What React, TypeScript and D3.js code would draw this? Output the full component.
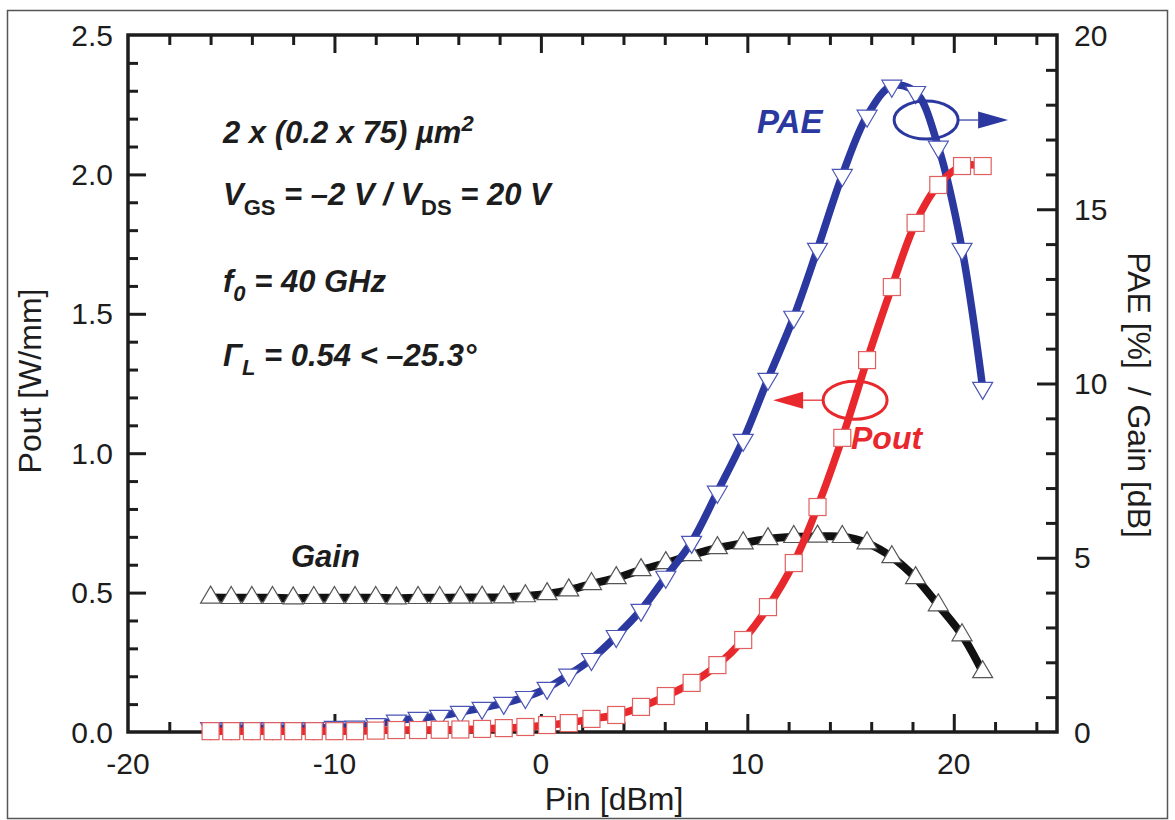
import React, { useEffect, useRef } from 'react';
import * as d3 from 'd3';

// measured input power [dBm]
const pin = [-16, -15, -14, -13, -12, -11, -10, -9, -8, -7, -5.95, -4.9, -3.9, -2.85, -1.8, -0.75, 0.3, 1.35, 2.45, 3.65, 4.85, 6.05, 7.3, 8.55, 9.8, 11.0, 12.25, 13.4, 14.6, 15.8, 17.0, 18.15, 19.25, 20.4, 21.4];

// Pout [W/mm] (left axis)
const pout = [0.003, 0.003, 0.003, 0.003, 0.003, 0.003, 0.003, 0.003, 0.005, 0.007, 0.007, 0.008, 0.009, 0.011, 0.014, 0.018, 0.025, 0.032, 0.047, 0.061, 0.090, 0.129, 0.176, 0.240, 0.330, 0.448, 0.606, 0.807, 1.055, 1.334, 1.596, 1.826, 1.962, 2.030, 2.030];

// PAE [%] (right axis)
const pae = [0.11, 0.11, 0.11, 0.11, 0.11, 0.11, 0.14, 0.15, 0.22, 0.32, 0.40, 0.46, 0.57, 0.69, 0.83, 1.00, 1.26, 1.64, 2.09, 2.75, 3.50, 4.45, 5.45, 6.89, 8.38, 10.13, 11.91, 13.86, 15.98, 17.68, 18.54, 18.36, 16.79, 13.86, 9.87];

// Gain [dB] (right axis)
const gain = [3.86, 3.85, 3.85, 3.85, 3.84, 3.85, 3.85, 3.85, 3.85, 3.84, 3.85, 3.85, 3.86, 3.86, 3.87, 3.90, 3.96, 4.07, 4.25, 4.42, 4.65, 4.85, 5.08, 5.28, 5.42, 5.54, 5.60, 5.61, 5.60, 5.42, 5.02, 4.42, 3.64, 2.78, 1.72];

const xTicks = [-20, -10, 0, 10, 20];
const yLeftTicks = [0, 0.5, 1.0, 1.5, 2.0, 2.5];
const yRightTicks = [0, 5, 10, 15, 20];

const BLUE = '#2a389f';
const RED = '#e8282c';
const INK = '#1d1d1d';
const FONT = '"Liberation Sans", Arial, sans-serif';

type Part = [string, string?];

const App = () => {
  const svgRef = useRef<SVGSVGElement>(null);

  useEffect(() => {
    if (!svgRef.current) return;
    const svg = d3.select(svgRef.current);
    svg.selectAll('*').remove();

    const left = 128, right = 1057, top = 35, bottom = 732;
    const x = d3.scaleLinear().domain([-20, 25]).range([left, right]);
    const yL = d3.scaleLinear().domain([0, 2.5]).range([bottom, top]);
    const yR = d3.scaleLinear().domain([0, 20]).range([bottom, top]);

    // outer frame of the figure
    svg.append('rect')
      .attr('x', 7.5).attr('y', 10.5).attr('width', 1160).attr('height', 808)
      .attr('fill', '#fff').attr('stroke', '#555').attr('stroke-width', 1.5);

    // ticks (inward)
    const tickG = svg.append('g').attr('stroke', INK);
    const addAxis = (axis: any, tx: number, ty: number) => {
      const g = tickG.append('g').attr('transform', `translate(${tx},${ty})`).call(axis);
      g.select('.domain').remove();
      g.selectAll('line').attr('stroke', INK).attr('stroke-width', 3);
      g.selectAll('text').remove();
    };
    const minorX = d3.range(-18, 25, 2).filter((v) => v % 10 !== 0);
    const majorX = [-10, 0, 10, 20];
    addAxis(d3.axisBottom(x).tickValues(minorX).tickSize(-10), 0, bottom);
    addAxis(d3.axisBottom(x).tickValues(majorX).tickSize(-18), 0, bottom);
    addAxis(d3.axisTop(x).tickValues(minorX).tickSize(-10), 0, top);
    addAxis(d3.axisTop(x).tickValues(majorX).tickSize(-18), 0, top);
    const minorYL = d3.range(1, 25).map((v) => v / 10).filter((v) => Math.round(v * 10) % 5 !== 0);
    addAxis(d3.axisLeft(yL).tickValues(minorYL).tickSize(-10), left, 0);
    addAxis(d3.axisLeft(yL).tickValues([0.5, 1.0, 1.5, 2.0]).tickSize(-18), left, 0);
    const minorYR = d3.range(1, 20).filter((v) => v % 5 !== 0);
    addAxis(d3.axisRight(yR).tickValues(minorYR).tickSize(-11), right, 0);
    addAxis(d3.axisRight(yR).tickValues([5, 10, 15]).tickSize(-20), right, 0);

    // plot frame
    svg.append('rect')
      .attr('x', left).attr('y', top).attr('width', right - left).attr('height', bottom - top)
      .attr('fill', 'none').attr('stroke', INK).attr('stroke-width', 3.5);

    // tick labels
    const lab = svg.append('g').attr('font-family', FONT).attr('font-size', 30).attr('fill', INK);
    xTicks.forEach((v) => {
      lab.append('text').attr('x', x(v)).attr('y', 774).attr('text-anchor', 'middle').text(v);
    });
    yLeftTicks.forEach((v) => {
      lab.append('text').attr('x', 113).attr('y', yL(v)).attr('dy', '0.35em')
        .attr('text-anchor', 'end').text(v.toFixed(1));
    });
    yRightTicks.forEach((v) => {
      lab.append('text').attr('x', 1074).attr('y', yR(v)).attr('dy', '0.35em').text(v);
    });

    // axis titles
    const titles = svg.append('g').attr('font-family', FONT).attr('font-size', 32).attr('fill', INK);
    titles.append('text').attr('x', 614).attr('y', 810).attr('text-anchor', 'middle').text('Pin [dBm]');
    titles.append('text').attr('transform', 'translate(41,381) rotate(-90)')
      .attr('text-anchor', 'middle').text('Pout [W/mm]');
    titles.append('text').attr('transform', 'translate(1128,395) rotate(90)')
      .attr('text-anchor', 'middle').attr('xml:space', 'preserve').text('PAE [%]  / Gain [dB]');

    // series
    const idx = d3.range(pin.length);
    const line = (yv: (i: number) => number) =>
      d3.line<number>().x((i) => x(pin[i])).y(yv).curve(d3.curveCatmullRom.alpha(0.5))(idx);

    const tri = (up: boolean) => {
      const h = 17, w = 20;
      return up
        ? `M0,${-h * 2 / 3}L${w / 2},${h / 3}L${-w / 2},${h / 3}Z`
        : `M0,${h * 2 / 3}L${w / 2},${-h / 3}L${-w / 2},${-h / 3}Z`;
    };

    // Gain
    svg.append('path').attr('d', line((i) => yR(gain[i])))
      .attr('fill', 'none').attr('stroke', '#111').attr('stroke-width', 8);
    svg.append('g').selectAll('path').data(idx).join('path')
      .attr('transform', (i) => `translate(${x(pin[i])},${yR(gain[i])})`)
      .attr('d', tri(true)).attr('fill', '#fff').attr('stroke', '#555').attr('stroke-width', 1.2);

    // PAE
    svg.append('path').attr('d', line((i) => yR(pae[i])))
      .attr('fill', 'none').attr('stroke', BLUE).attr('stroke-width', 7.5);
    svg.append('g').selectAll('path').data(idx).join('path')
      .attr('transform', (i) => `translate(${x(pin[i])},${yR(pae[i])})`)
      .attr('d', tri(false)).attr('fill', '#fff').attr('stroke', '#4a55b5').attr('stroke-width', 1.2);

    // Pout
    svg.append('path').attr('d', line((i) => yL(pout[i])))
      .attr('fill', 'none').attr('stroke', RED).attr('stroke-width', 7.5);
    svg.append('g').selectAll('rect').data(idx).join('rect')
      .attr('x', (i) => x(pin[i]) - 8.5).attr('y', (i) => yL(pout[i]) - 8.5)
      .attr('width', 17).attr('height', 17)
      .attr('fill', '#fff').attr('stroke', '#e06060').attr('stroke-width', 1.2);

    // ellipses with arrows pointing to the axis each curve belongs to
    const ellipse = (cx: number, cy: number, color: string, dir: number) => {
      const g = svg.append('g');
      g.append('ellipse').attr('cx', cx).attr('cy', cy).attr('rx', 32).attr('ry', 19)
        .attr('fill', 'none').attr('stroke', color).attr('stroke-width', 3);
      const x0 = cx + dir * 32, x1 = x0 + dir * 20, x2 = x1 + dir * 30;
      g.append('line').attr('x1', x0).attr('y1', cy).attr('x2', x1).attr('y2', cy)
        .attr('stroke', color).attr('stroke-width', 1.5).attr('opacity', 0.8);
      g.append('path').attr('d', `M${x1},${cy - 8.5}L${x2},${cy}L${x1},${cy + 8.5}Z`).attr('fill', color);
    };
    ellipse(x(18.66), yR(17.56), BLUE, 1);
    ellipse(x(15.22), yL(1.19), RED, -1);

    // annotations
    const rich = (tx: number, ty: number, parts: Part[], color = INK, size = 31) => {
      const t = svg.append('text').attr('x', tx).attr('y', ty)
        .attr('font-family', FONT).attr('font-size', size).attr('font-weight', 'bold')
        .attr('font-style', 'italic').attr('fill', color).attr('xml:space', 'preserve');
      let shift = 0;
      parts.forEach(([s, kind]) => {
        const target = kind === 'sub' ? 9 : kind === 'subn' ? 10 : kind === 'sup' ? -12 : 0;
        const sp = t.append('tspan').attr('dy', target - shift).text(s);
        if (kind) sp.attr('font-size', 22);
        if (kind === 'subn') sp.attr('font-style', 'normal');
        shift = target;
      });
    };
    rich(223, 143, [['2 x (0.2 x 75) µm'], ['2', 'sup']]);
    rich(223, 205, [['V'], ['GS', 'subn'], [' = –2 V / V'], ['DS', 'subn'], [' = 20 V']]);
    rich(223, 292, [['f'], ['0', 'sub'], [' = 40 GHz']]);
    rich(223, 366, [['Γ'], ['L', 'sub'], [' = 0.54 < –25.3°']]);
    rich(757, 133, [['PAE']], BLUE, 33);
    rich(851, 449, [['Pout']], RED, 32);
    rich(291, 567, [['Gain']]);
  }, []);

  return (
    <svg ref={svgRef} width={1175} height={820}
      style={{ position: 'absolute', left: 0, top: 0, background: '#fff' }} />
  );
};

export default App;
